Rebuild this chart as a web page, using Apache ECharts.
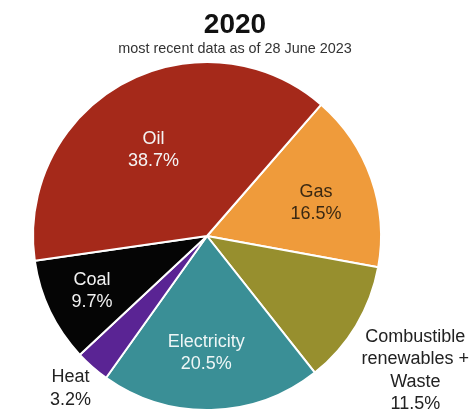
<!DOCTYPE html>
<html>
<head>
<meta charset="utf-8">
<script src="https://cdn.jsdelivr.net/npm/echarts@6/dist/echarts.min.js"></script>
<style>
  html, body { margin: 0; padding: 0; background: #fff; }
  #chart { width: 470px; height: 410px; }
</style>
</head>
<body>
<div id="chart"></div>
<script>
"use strict";

// 数据
var sources = ["Gas", "Combustible\nrenewables +\nWaste", "Electricity", "Heat", "Coal", "Oil"];
var shares = [16.5, 11.5, 20.5, 3.2, 9.7, 38.7];

// 样式
var colors = ["#ef9b3b", "#978f2e", "#3a8f96", "#5a2494", "#050505", "#a5291a"];
var textColors = ["#3a2812", "#222222", "#eef6f6", "#222222", "#f2f2f2", "#f4f4f4"];
// label spot: distance from centre as a share of the radius, and a small turn (deg) off the slice middle
var labelDist = [0.657, 1.42, 0.664, 1.17, 0.729, 0.588];
var labelTurn = [-1.7, -1.5, -1.8, -0.9, -0.6, 2.9];

var CX = 207, CY = 236, R = 174, START = 49;

function initChart() {
  var myChart = echarts.init(document.getElementById("chart"));
  var total = shares.reduce(function (a, b) { return a + b; }, 0);
  // 每个扇区中线的角度
  var midAngles = [];
  var acc = 0;
  shares.forEach(function (v) {
    midAngles.push(START - (acc + v / 2) / total * 360);
    acc += v;
  });

  var data = sources.map(function (name, i) {
    return {
      name: name,
      value: shares[i],
      itemStyle: { color: colors[i] },
      label: { color: textColors[i] },
    };
  });
  var option = {
    animation: false,
    title: {
      text: "2020",
      subtext: "most recent data as of 28 June 2023",
      left: "center",
      top: 5,
      itemGap: 1,
      textStyle: {
        fontFamily: "Liberation Sans",
        fontSize: 28,
        fontWeight: "bold",
        color: "#111",
        lineHeight: 30,
      },
      subtextStyle: {
        fontFamily: "Liberation Sans",
        fontSize: 14.4,
        color: "#333",
        lineHeight: 16,
      },
    },
    series: [
      {
        type: "pie",
        center: [CX, CY],
        radius: R,
        startAngle: START,
        clockwise: true,
        data: data,
        itemStyle: { borderColor: "#fff", borderWidth: 2 },
        label: {
          show: true,
          position: "inside",
          fontFamily: "Liberation Sans",
          fontSize: 18,
          lineHeight: 22.5,
          align: "center",
          formatter: function (p) {
            return p.name + "\n" + p.value + "%";
          },
        },
        labelLine: { show: false },
        emphasis: { disabled: true },
        labelLayout: function (params) {
          var i = params.dataIndex;
          var a = (midAngles[i] + labelTurn[i]) * Math.PI / 180;
          var d = labelDist[i] * R;
          return {
            x: CX + d * Math.cos(a),
            y: CY - d * Math.sin(a) + 1.5,
            align: "center",
            verticalAlign: "middle",
          };
        },
      },
    ],
  };
  myChart.setOption(option);
  return myChart;
}

initChart();
</script>
</body>
</html>
